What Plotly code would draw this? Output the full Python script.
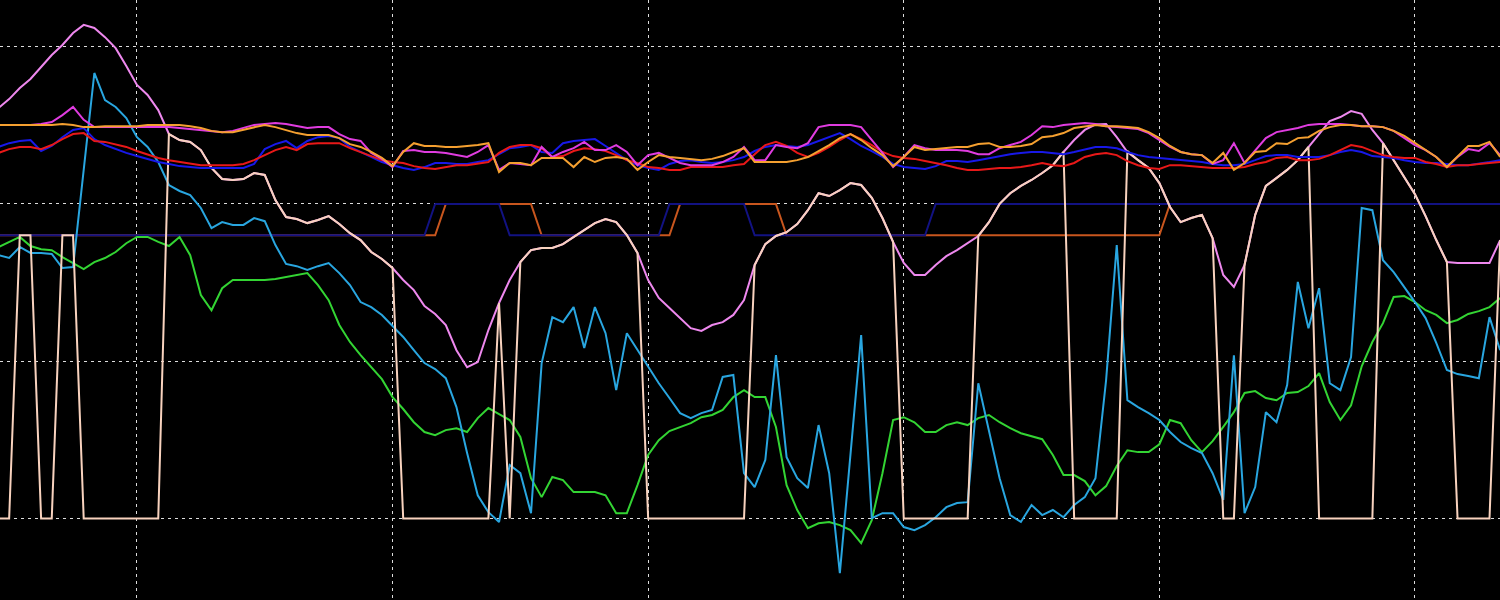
import plotly.graph_objects as go

hours = list(range(142))

pink = [130.5, 133.3, 136.8, 139.7, 143.5, 147.3, 150.5, 154.3, 156.9, 155.9,
        153.0, 149.5, 143.8, 137.8, 134.6, 129.8, 122.2, 120.3, 119.7, 117.1,
        111.4, 107.9, 107.6, 107.9, 109.8, 109.2, 101.2, 95.8, 95.2, 93.9,
        94.9, 96.1, 93.6, 90.7, 88.5, 84.7, 82.5, 79.6, 75.8, 72.6,
        67.5, 65.0, 61.5, 53.5, 48.1, 49.7, 59.9, 68.5, 75.8, 81.5,
        85.3, 86.0, 86.0, 87.2, 89.5, 91.7, 93.9, 95.2, 94.2, 90.1,
        84.4, 75.8, 70.1, 66.9, 63.7, 60.5, 59.6, 61.5, 62.4, 64.7,
        69.4, 80.6, 87.2, 89.8, 91.0, 93.6, 98.0, 103.4, 102.5, 104.4,
        106.6, 106.0, 101.9, 95.5, 87.9, 81.2, 77.4, 77.4, 80.6, 83.4,
        85.3, 87.5, 89.8, 94.2, 100.0, 103.4, 105.7, 107.6, 109.8, 112.3,
        116.5, 120.3, 123.5, 125.2, 125.4, 121.2, 116.5, 113.9, 111.4, 106.6,
        99.0, 94.2, 95.5, 96.5, 89.1, 77.4, 73.6, 80.6, 96.5, 105.7,
        108.2, 110.8, 113.9, 118.1, 122.2, 126.3, 127.6, 129.5, 128.6, 123.5,
        119.3, 113.9, 108.2, 103.1, 96.1, 88.5, 81.5, 81.2, 81.2, 81.2,
        81.2, 88.5]

peach = [0, 0, 90, 90, 0, 0, 90, 90, 0, 0,
         0, 0, 0, 0, 0, 0, 122.2, 120.3, 119.7, 117.1,
         111.4, 107.9, 107.6, 107.9, 109.8, 109.2, 101.2, 95.8, 95.2, 93.9,
         94.9, 96.1, 93.6, 90.7, 88.5, 84.7, 82.5, 79.6, 0, 0,
         0, 0, 0, 0, 0, 0, 0, 68.5, 0, 81.5,
         85.3, 86.0, 86.0, 87.2, 89.5, 91.7, 93.9, 95.2, 94.2, 90.1,
         84.4, 0, 0, 0, 0, 0, 0, 0, 0, 0,
         0, 80.6, 87.2, 89.8, 91.0, 93.6, 98.0, 103.4, 102.5, 104.4,
         106.6, 106.0, 101.9, 95.5, 87.9, 0, 0, 0, 0, 0,
         0, 0, 89.8, 94.2, 100.0, 103.4, 105.7, 107.6, 109.8, 112.3,
         116.5, 0, 0, 0, 0, 0, 116.8, 113.9, 111.4, 106.6,
         99.0, 94.2, 95.5, 96.5, 89.1, 0, 0, 80.6, 96.5, 105.7,
         108.2, 110.8, 113.9, 118.1, 0, 0, 0, 0, 0, 0,
         119.3, 113.9, 108.2, 103.1, 96.1, 88.5, 81.5, 0, 0, 0,
         0, 88.5]

skyblue = [83.7, 82.8, 86.3, 84.4, 84.4, 84.1, 79.6, 79.9, 110.8, 141.6,
           133.0, 130.8, 127.3, 121.2, 118.1, 113.3, 106.0, 104.1, 102.8, 98.7,
           92.3, 94.2, 93.3, 93.3, 95.5, 94.5, 86.9, 80.9, 80.2, 79.0,
           80.2, 81.2, 78.0, 74.2, 68.8, 67.2, 64.7, 61.2, 57.7, 53.5,
           49.4, 47.5, 44.6, 35.4, 20.8, 7.4, 2.0, -1.1, 17.0, 14.4,
           1.7, 49.4, 64.0, 62.4, 67.2, 54.2, 67.2, 58.9, 40.8, 58.9,
           53.5, 48.1, 43.0, 38.3, 33.5, 31.9, 33.5, 34.5, 45.0, 45.6,
           14.4, 10.0, 18.6, 51.9, 19.5, 12.8, 9.7, 29.7, 14.4, -17.4,
           20.2, 58.3, 0.1, 1.7, 1.7, -2.7, -3.7, -2.1, 0.4, 3.6,
           4.9, 5.2, 43.0, 28.1, 12.8, 1.1, -1.1, 4.3, 1.1, 2.7,
           0.4, 4.3, 6.8, 12.8, 44.0, 86.9, 37.6, 35.4, 33.5, 31.3,
           27.5, 24.3, 22.4, 20.8, 14.4, 5.9, 51.9, 1.7, 10.0, 33.8,
           30.6, 42.4, 75.2, 60.5, 73.2, 43.0, 40.8, 51.3, 98.7, 98.0,
           82.1, 78.3, 73.6, 68.8, 63.7, 55.8, 47.2, 45.9, 45.3, 44.6,
           64.0, 53.5]

green = [86.3, 87.9, 89.5, 86.6, 85.6, 85.3, 83.1, 81.2, 79.3, 81.5,
         82.8, 84.7, 87.5, 89.5, 89.5, 87.9, 86.6, 89.5, 83.7, 71.0,
         66.2, 73.2, 75.8, 75.8, 75.8, 75.8, 76.1, 76.7, 77.4, 78.0,
         74.2, 69.4, 61.5, 56.1, 51.9, 48.1, 44.3, 38.6, 34.8, 30.6,
         27.5, 26.5, 28.1, 28.7, 27.5, 31.9, 35.1, 33.2, 31.3, 25.9,
         12.8, 6.8, 13.2, 12.2, 8.4, 8.4, 8.4, 7.4, 1.7, 1.7,
         10.6, 20.2, 24.9, 27.8, 29.1, 30.3, 32.2, 32.9, 34.5, 38.6,
         40.8, 38.6, 38.6, 29.1, 10.6, 2.7, -3.1, -1.5, -1.1, -2.1,
         -3.7, -7.8, -0.5, 14.4, 31.3, 32.2, 30.6, 27.5, 27.5, 29.7,
         30.6, 29.7, 31.9, 32.9, 30.6, 28.7, 27.1, 26.2, 25.2, 20.2,
         13.8, 13.8, 11.9, 7.4, 10.3, 16.7, 21.7, 21.1, 21.1, 23.6,
         31.3, 30.3, 24.9, 21.1, 24.6, 29.1, 33.8, 39.9, 40.5, 38.3,
         37.6, 39.9, 40.2, 42.1, 46.2, 37.0, 31.3, 36.0, 48.4, 56.1,
         62.1, 70.4, 70.7, 68.8, 66.2, 64.7, 62.1, 63.1, 65.0, 65.9,
         67.2, 70.1]

orange = [125.1, 125.1, 125.1, 125.1, 125.1, 125.1, 125.4, 125.1, 124.4, 124.4,
          124.7, 124.7, 124.7, 124.7, 125.1, 125.1, 125.1, 125.1, 124.7, 124.1,
          123.2, 122.8, 122.8, 123.5, 124.4, 125.1, 124.4, 123.5, 122.5, 121.9,
          121.9, 121.9, 120.9, 119.0, 118.1, 116.5, 114.6, 112.0, 116.5, 119.3,
          118.4, 118.4, 118.1, 118.1, 118.4, 118.7, 119.3, 110.1, 113.0, 113.0,
          112.3, 114.6, 114.6, 114.6, 111.7, 114.9, 113.3, 114.6, 114.9, 114.3,
          110.8, 113.3, 115.5, 114.9, 114.6, 114.3, 113.9, 114.3, 115.2, 116.5,
          117.7, 113.3, 113.3, 113.3, 113.3, 113.9, 114.9, 116.8, 118.7, 120.9,
          122.2, 120.3, 117.7, 115.5, 112.0, 114.9, 118.1, 117.1, 117.4, 117.7,
          118.1, 118.1, 119.0, 119.3, 118.1, 118.1, 118.4, 119.0, 121.2, 121.6,
          122.5, 124.1, 124.7, 125.1, 124.7, 124.7, 124.4, 124.1, 122.8, 120.9,
          118.4, 116.5, 115.8, 115.5, 113.0, 116.2, 110.8, 113.0, 116.5, 116.8,
          119.3, 119.0, 120.9, 121.2, 123.2, 124.4, 125.1, 125.1, 124.7, 124.7,
          124.4, 123.2, 121.6, 119.3, 117.1, 114.9, 111.7, 115.2, 118.4, 118.4,
          119.7, 114.9]

magenta = [125.1, 125.1, 125.1, 125.1, 125.4, 126.0, 128.2, 130.8, 126.7, 124.4,
           124.4, 124.4, 124.4, 124.4, 124.4, 124.4, 124.4, 124.1, 123.8, 123.5,
           123.2, 122.8, 123.2, 124.1, 125.1, 125.4, 125.7, 125.4, 124.7, 124.1,
           124.4, 124.4, 122.2, 120.6, 120.0, 116.2, 114.3, 111.7, 116.8, 117.1,
           116.5, 116.5, 116.2, 115.5, 114.9, 116.5, 118.7, 110.8, 113.0, 112.7,
           112.3, 118.1, 114.9, 116.5, 117.7, 119.7, 117.1, 117.1, 118.7, 116.5,
           112.3, 115.5, 116.2, 114.6, 113.0, 112.3, 112.3, 112.3, 113.3, 114.9,
           118.1, 113.9, 113.9, 118.7, 118.1, 117.7, 119.3, 124.4, 125.1, 125.1,
           125.1, 124.4, 120.3, 116.2, 111.7, 114.9, 118.7, 117.7, 117.1, 117.1,
           117.1, 116.8, 115.8, 115.8, 117.7, 118.7, 119.7, 121.9, 124.7, 124.4,
           125.1, 125.4, 125.7, 125.4, 124.7, 124.4, 124.1, 123.8, 122.5, 120.3,
           118.1, 116.5, 115.8, 115.5, 112.7, 113.9, 119.3, 113.0, 117.1, 120.9,
           122.8, 123.5, 124.1, 125.1, 125.4, 125.4, 125.4, 125.1, 124.7, 124.7,
           124.4, 123.2, 120.9, 118.7, 117.1, 114.9, 111.7, 114.9, 117.4, 116.8,
           119.3, 115.5]

blue = [118.1, 119.3, 120.0, 120.3, 116.8, 118.4, 121.2, 123.5, 124.1, 120.6,
        118.7, 117.4, 116.2, 115.2, 114.3, 113.3, 112.7, 112.0, 111.7, 111.4,
        111.4, 111.4, 111.4, 111.4, 112.7, 117.4, 119.0, 120.0, 117.7, 120.0,
        121.2, 121.6, 120.9, 118.1, 116.5, 114.9, 113.3, 112.3, 111.4, 110.8,
        111.7, 113.0, 113.0, 112.7, 112.7, 113.3, 113.9, 115.8, 117.7, 118.1,
        118.7, 116.5, 116.2, 119.3, 120.0, 120.3, 120.6, 118.4, 116.2, 113.9,
        112.3, 111.4, 110.8, 112.7, 113.6, 113.9, 113.3, 113.0, 113.3, 113.9,
        114.9, 116.8, 118.1, 118.7, 118.4, 118.1, 118.7, 120.0, 121.2, 122.5,
        120.6, 118.4, 116.8, 114.9, 112.7, 111.7, 111.4, 111.1, 112.0, 113.6,
        113.6, 113.3, 113.9, 114.6, 115.2, 115.8, 116.2, 116.5, 116.5, 116.2,
        115.8, 116.5, 117.4, 118.1, 118.1, 117.7, 116.5, 115.5, 114.9, 114.6,
        114.3, 113.9, 113.6, 113.3, 112.7, 112.3, 112.3, 112.7, 113.9, 115.2,
        115.5, 115.5, 114.9, 114.9, 114.9, 115.5, 116.5, 117.1, 116.5, 115.2,
        114.9, 114.6, 113.9, 113.3, 113.0, 113.0, 112.7, 112.3, 112.3, 112.7,
        113.3, 113.9]

red = [116.2, 117.4, 118.1, 118.1, 117.4, 118.7, 120.6, 122.2, 122.5, 120.0,
       119.7, 119.0, 118.1, 116.8, 115.8, 114.6, 113.9, 113.3, 112.7, 112.3,
       112.3, 112.3, 112.3, 112.7, 113.9, 115.5, 117.1, 118.1, 117.1, 119.0,
       119.3, 119.3, 119.3, 117.7, 116.5, 115.2, 113.9, 113.3, 113.0, 112.0,
       111.4, 111.1, 111.7, 112.3, 112.3, 112.7, 113.3, 116.2, 118.1, 118.7,
       118.7, 117.7, 114.9, 115.2, 116.8, 117.7, 117.4, 116.8, 115.5, 113.9,
       113.0, 111.7, 111.4, 110.8, 110.8, 111.7, 111.7, 111.7, 111.7, 112.3,
       112.7, 115.8, 118.7, 119.7, 118.4, 116.2, 114.9, 116.2, 118.1, 120.3,
       122.2, 120.6, 118.7, 116.5, 115.2, 114.6, 114.3, 113.6, 113.0, 112.3,
       111.4, 110.8, 110.8, 111.1, 111.4, 111.4, 111.7, 112.3, 113.0, 112.3,
       112.0, 113.0, 114.9, 115.8, 116.2, 115.5, 113.6, 112.3, 111.4, 111.1,
       112.3, 112.3, 112.0, 111.7, 111.4, 111.4, 111.4, 111.7, 112.7, 113.3,
       114.6, 114.9, 113.9, 113.9, 114.3, 115.5, 117.1, 118.7, 118.1, 116.8,
       115.5, 114.9, 114.6, 114.6, 113.3, 112.7, 111.7, 112.3, 112.3, 112.7,
       113.0, 113.3]

navy = [90] * 41 + [100] * 7 + [90] * 15 + [100] * 8 + [90] * 17 + [100] * 54
rust = [90] * 42 + [100] * 9 + [90] * 13 + [100] * 10 + [90] * 36 + [100] * 32

series = [
    ("rust", rust, "#C8561E"),
    ("navy", navy, "#121282"),
    ("green", green, "#33D433"),
    ("skyblue", skyblue, "#29A6E0"),
    ("pink", pink, "#EE88EE"),
    ("peach", peach, "#F8D2BE"),
    ("blue", blue, "#1818E8"),
    ("red", red, "#E81818"),
    ("magenta", magenta, "#E03CE0"),
    ("orange", orange, "#F5A030"),
]
for name, vals, col in series:
    assert len(vals) == len(hours), (name, len(vals))

fig = go.Figure()
for name, vals, col in series:
    fig.add_trace(go.Scatter(x=hours, y=vals, mode="lines", name=name,
                             line=dict(color=col, width=2), hoverinfo="skip"))

grid = dict(showgrid=True, gridcolor="#DDDDDD", gridwidth=1, griddash="3px,4px",
            zeroline=False, showticklabels=False, ticks="", showline=False)
fig.update_layout(
    width=1500, height=600,
    margin=dict(l=0, r=0, t=0, b=0),
    paper_bgcolor="black", plot_bgcolor="black",
    showlegend=False,
    xaxis=dict(range=[0.141, 140.986], tick0=13, dtick=24, **grid),
    yaxis=dict(range=[-25.9, 164.8], tick0=0, dtick=50, **grid),
)
fig.write_html("out.html", config={"displayModeBar": False},
               post_script="document.body.style.margin='0';document.body.style.background='black';")
